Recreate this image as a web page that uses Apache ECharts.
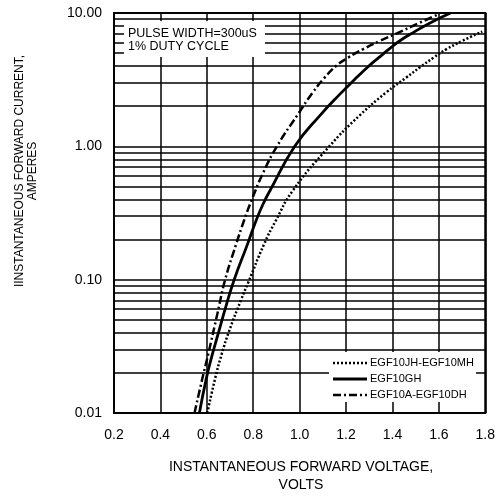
<!DOCTYPE html>
<html>
<head>
<meta charset="utf-8">
<script src="https://cdn.jsdelivr.net/npm/echarts@6/dist/echarts.min.js"></script>
<style>
html,body{margin:0;padding:0;background:#fff;}
#chart{width:498px;height:496px;}
</style>
</head>
<body>
<div id="chart"></div>
<script>
// ---- data ----
const seriesNames = ['EGF10JH-EGF10MH', 'EGF10GH', 'EGF10A-EGF10DH'];

const voltsJH = [0.602, 0.636, 0.664, 0.696, 0.748, 0.778, 0.846, 0.897, 0.970, 1.124, 1.261, 1.372, 1.458, 1.522, 1.578, 1.633, 1.702, 1.787];
const ampsJH  = [0.01, 0.0182, 0.0276, 0.0411, 0.0709, 0.0947, 0.1835, 0.2765, 0.4642, 0.9823, 1.722, 2.527, 3.265, 3.956, 4.642, 5.360, 6.190, 7.262];

const voltsGH = [0.568, 0.598, 0.624, 0.643, 0.683, 0.718, 0.773, 0.812, 0.842, 0.872, 0.979, 1.090, 1.180, 1.244, 1.295, 1.342, 1.385, 1.432, 1.483, 1.560, 1.650];
const ampsGH  = [0.01, 0.0182, 0.0276, 0.0362, 0.0636, 0.1, 0.180, 0.2765, 0.368, 0.464, 1.0, 1.722, 2.527, 3.265, 3.956, 4.642, 5.360, 6.190, 7.034, 8.387, 10.0];

const voltsDH = [0.547, 0.581, 0.606, 0.647, 0.679, 0.726, 0.760, 0.795, 0.842, 0.902, 0.991, 1.056, 1.107, 1.158, 1.210, 1.274, 1.347, 1.419, 1.513, 1.603];
const ampsDH  = [0.01, 0.0182, 0.0276, 0.057, 0.1, 0.1835, 0.2765, 0.4024, 0.6288, 1.0, 1.722, 2.527, 3.265, 4.019, 4.642, 5.360, 6.190, 7.034, 8.387, 9.842];

const xTickValues = [0.2, 0.4, 0.6, 0.8, 1.0, 1.2, 1.4, 1.6, 1.8];
const yTickLabels = ['0.01', '0.10', '1.00', '10.00'];
const minorGridValues = [0.02, 0.03, 0.04, 0.05, 0.06, 0.07, 0.08, 0.09,
                         0.2, 0.3, 0.4, 0.5, 0.6, 0.7, 0.8, 0.9,
                         2, 3, 4, 5, 6, 7, 8, 9];

const noteLines = ['PULSE WIDTH=300uS', '1% DUTY CYCLE'];
const xTitle = 'INSTANTANEOUS FORWARD VOLTAGE,\nVOLTS';
const yTitle = 'IINSTANTANEOUS FORWARD CURRENT,\nAMPERES';

// ---- chart ----
const FONT = '"Liberation Sans", Arial, Helvetica, sans-serif';
const chart = echarts.init(document.getElementById('chart'), null, {renderer: 'canvas'});

function zip(xs, ys) { return xs.map((x, i) => [x, ys[i]]); }

const lineStyles = [
  {color: '#000', width: 2.5, type: [2, 2]},
  {color: '#000', width: 2.8, type: 'solid'},
  {color: '#000', width: 2.5, type: [8, 3, 2, 3]}
];
const dataSets = [zip(voltsJH, ampsJH), zip(voltsGH, ampsGH), zip(voltsDH, ampsDH)];

const gridLeft = 114, gridTop = 13, gridRight = 10, gridBottom = 83;

const series = [{
  type: 'line',
  data: [],
  z: 1,
  silent: true,
  markLine: {
    silent: true,
    symbol: ['none', 'none'],
    label: {show: false},
    animation: false,
    lineStyle: {color: '#000', width: 1.5, type: 'solid'},
    data: minorGridValues.map(v => ({yAxis: v}))
  }
}];
seriesNames.forEach((n, i) => {
  series.push({
    name: n,
    type: 'line',
    data: dataSets[i],
    smooth: 0.5,
    showSymbol: false,
    symbol: 'none',
    z: 5,
    lineStyle: lineStyles[i]
  });
});

// legend drawn as graphics (box covers grid lines)
const legX = 333, legTextX = 370, legYs = [363, 379, 395];
const legendGraphics = [{
  type: 'rect', z: 100,
  shape: {x: 329, y: 352, width: 147, height: 50},
  style: {fill: '#fff'}
}];
seriesNames.forEach((n, i) => {
  const ls = lineStyles[i];
  legendGraphics.push({
    type: 'line', z: 101,
    shape: {x1: legX, y1: legYs[i], x2: legX + 34, y2: legYs[i]},
    style: {stroke: '#000', lineWidth: ls.width, lineDash: Array.isArray(ls.type) ? ls.type : null}
  });
  legendGraphics.push({
    type: 'text', z: 101,
    x: legTextX, y: legYs[i],
    style: {text: n, fill: '#000', font: '11px ' + FONT,
            textAlign: 'left', textVerticalAlign: 'middle'}
  });
});

const option = {
  animation: false,
  backgroundColor: '#fff',
  grid: {
    left: gridLeft, top: gridTop, right: gridRight, bottom: gridBottom,
    show: true, borderColor: '#000', borderWidth: 2, backgroundColor: 'transparent'
  },
  xAxis: {
    type: 'value',
    min: xTickValues[0], max: xTickValues[xTickValues.length - 1], interval: 0.2,
    axisLine: {show: false},
    axisTick: {show: false},
    axisLabel: {
      color: '#000', fontSize: 14, fontFamily: FONT, margin: 15,
      formatter: v => v.toFixed(1)
    },
    splitLine: {show: true, lineStyle: {color: '#000', width: 1.5}}
  },
  yAxis: {
    type: 'log', logBase: 10, min: 0.01, max: 10,
    axisLine: {show: false},
    axisTick: {show: false},
    axisLabel: {
      color: '#000', fontSize: 14, fontFamily: FONT, margin: 12,
      formatter: v => {
        const s = v.toFixed(2);
        return yTickLabels.indexOf(s) >= 0 ? s : '';
      }
    },
    splitLine: {show: true, lineStyle: {color: '#000', width: 1.5}}
  },
  series: series,
  graphic: [
    {type: 'rect', z: 100, shape: {x: 124, y: 21, width: 141, height: 36}, style: {fill: '#fff'}},
    {type: 'text', z: 101, x: 128, y: 34,
     style: {text: noteLines[0], fill: '#000', font: '12.5px ' + FONT, textAlign: 'left', textVerticalAlign: 'middle'}},
    {type: 'text', z: 101, x: 128, y: 47,
     style: {text: noteLines[1], fill: '#000', font: '12.5px ' + FONT, textAlign: 'left', textVerticalAlign: 'middle'}},
    {type: 'text', z: 101, x: 301, y: 476,
     style: {text: xTitle, fill: '#000', font: '14px ' + FONT, textAlign: 'center', textVerticalAlign: 'middle', lineHeight: 18}},
    {type: 'text', z: 101, x: 26, y: 171, rotation: Math.PI / 2,
     style: {text: yTitle, fill: '#000', font: '12px ' + FONT, textAlign: 'center', textVerticalAlign: 'middle', lineHeight: 13}}
  ].concat(legendGraphics)
};

chart.setOption(option);
</script>
</body>
</html>
